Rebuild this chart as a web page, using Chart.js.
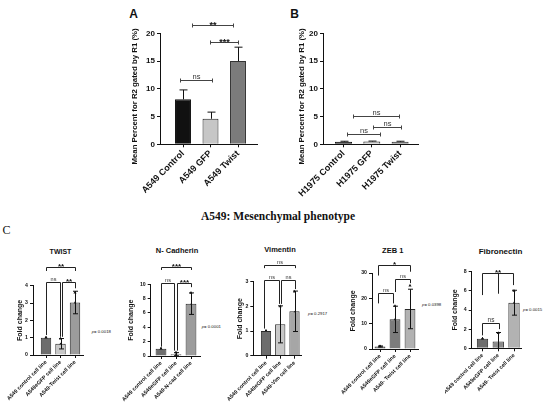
<!DOCTYPE html>
<html>
<head>
<meta charset="utf-8">
<script src="https://cdn.jsdelivr.net/npm/chart.js@4"></script>
<style>
  body { margin: 0; background: #fff; }
  #page { position: relative; width: 550px; height: 420px; overflow: hidden; font-family: "Liberation Sans", Arial, sans-serif; color: #111; }
  canvas { position: absolute; }
  .txt { position: absolute; white-space: nowrap; line-height: 1; transform: translate(-50%, -50%); }
  .p { position: absolute; white-space: nowrap; line-height: 1; transform: translate(0, -50%); font-size: 4.3px; }
  .b { font-weight: bold; }
</style>
</head>
<body>
<div id="page">
  <div class="txt b" style="left:133.5px;top:13.5px;font-size:12px;">A</div>
  <div class="txt b" style="left:294.5px;top:13.5px;font-size:12px;">B</div>
  <div class="txt b" style="left:278px;top:217px;font-size:11.5px;font-family:'Liberation Serif',serif;">A549: Mesenchymal phenotype</div>
  <div class="txt" style="left:6.5px;top:230px;font-size:12px;font-family:'Liberation Serif',serif;">C</div>

  <div class="txt b" style="left:60.5px;top:250.7px;font-size:7px;">TWIST</div>
  <div class="txt b" style="left:177px;top:251px;font-size:7.5px;">N- Cadherin</div>
  <div class="txt b" style="left:280px;top:249.5px;font-size:7.5px;">Vimentin</div>
  <div class="txt b" style="left:392.7px;top:250.7px;font-size:7.5px;">ZEB 1</div>
  <div class="txt b" style="left:500.5px;top:251.7px;font-size:8px;">Fibronectin</div>

  <div class="p" style="left:91.7px;top:331.7px;"><i>p</i>= 0.0018</div>
  <div class="p" style="left:201.7px;top:326.7px;"><i>p</i>= 0.0001</div>
  <div class="p" style="left:308px;top:314.3px;"><i>p</i>= 0.2917</div>
  <div class="p" style="left:422px;top:305px;"><i>p</i>= 0.0398</div>
  <div class="p" style="left:523px;top:310px;"><i>p</i>= 0.0015</div>

  <canvas id="chartA"></canvas>
  <canvas id="chartB"></canvas>
  <canvas id="chartTwist"></canvas>
  <canvas id="chartNcad"></canvas>
  <canvas id="chartVim"></canvas>
  <canvas id="chartZeb"></canvas>
  <canvas id="chartFib"></canvas>
</div>
<script>
// ---------- Data ----------
// Panel A: A549 flow data (mean + SEM, SEM drawn upward only)
const labelsA = ['A549 Control', 'A549 GFP', 'A549 Twist'];
const meanA = [8.1, 4.6, 15.0];
const errA = [1.7, 1.2, 2.5];
// Panel B: H1975 flow data
const labelsB = ['H1975 Control', 'H1975 GFP', 'H1975 Twist'];
const meanB = [0.45, 0.5, 0.45];
const errB = [0.1, 0.08, 0.1];

// Panel C: fold change of EMT markers (mean, SD, single replicates)
const labelsTwist = ['A549 control cell line', 'A549eGFP cell line', 'A549-Twist cell line'];
const meanTwist = [1.0, 0.65, 3.03];
const errTwist = [0, 0.3, 0.65];
const ptsTwist = [[1, 1, 1], [0.95, 0.62, 0.38], [3.6, 3.0, 2.5]];

const labelsNcad = ['A549 control cell line', 'A549eGFP cell line', 'A549-N-cad cell line'];
const meanNcad = [1.0, 0.25, 7.3];
const errNcad = [0, 0.22, 1.5];
const ptsNcad = [[1, 1, 1], [0.5, 0.15, 0.1], [8.8, 7.1, 6.0]];

const labelsVim = ['A549 control cell line', 'A549eGFP cell line', 'A549-Vim cell line'];
const meanVim = [1.0, 1.27, 1.8];
const errVim = [0, 0.75, 0.82];
const ptsVim = [[1, 1, 1], [2.0, 1.1, 0.7], [2.6, 1.75, 1.05]];

const labelsZeb = ['A549 control cell line', 'A549eGFP cell line', 'A549- Twist cell line'];
const meanZeb = [1.0, 11.7, 15.8];
const errZeb = [0.2, 5.2, 7.8];
const ptsZeb = [[1.1, 0.9, 1.0], [17, 11.5, 6.5], [25, 12.5, 10]];

const labelsFib = ['A549 control cell line', 'A549eGFP cell line', 'A549- Twist cell line'];
const meanFib = [1.0, 0.7, 4.76];
const errFib = [0, 0.95, 1.3];
const ptsFib = [[1, 1, 1], [1.6, 0.3, 0.2], [6.0, 4.7, 3.6]];

// Significance brackets: [from x, to x, height, label, left leg end, right leg end, middle leg]
const sigA = [[0.89, 2.05, 11.6, 'ns'], [1.33, 2.82, 21.5, '**'], [1.98, 3.0, 18.4, '***']];
const sigB = [[1.12, 2.29, 1.86, 'ns'], [2.04, 3.03, 3.1, 'ns'], [1.34, 2.96, 5.05, 'ns']];
const sigTwist = [[1.0, 3.03, 5.08, '**', 4.85, 4.85], [1.0, 1.95, 4.22, 'ns', 1.15, 1.05], [2.08, 3.03, 4.22, '**', 1.05, 3.85]];
const sigNcad = [[1.0, 3.0, 12.37, '***', 12.0, 12.0], [1.0, 1.89, 10.2, 'ns', 1.3, 0.75], [2.05, 3.0, 10.2, '***', 0.75, 9.6]];
const sigVim = [[0.88, 3.04, 3.68, 'ns', 3.55, 3.55], [0.88, 1.93, 3.05, 'ns', 1.1, 2.1], [2.05, 3.04, 3.05, 'ns', 2.1, 2.7]];
const sigZeb = [[0.89, 3.0, 33.2, '*', 29, 30.5], [2.0, 3.0, 27.5, 'ns', 22.5, 26], [0.89, 1.89, 22.0, 'ns', 18, 18]];
const sigFib = [[0.95, 2.96, 7.83, '**', 5.56, 6.6, [2.0, 5.7]], [0.95, 2.07, 2.6, 'ns', 1.35, 2.0]];

Chart.defaults.font.family = '"Liberation Sans", Arial, sans-serif';
Chart.defaults.color = '#111';

// Plugin that draws error bars, significance brackets and (optionally) a shifted y title
function marksPlugin(p) {
    return {
        id: 'marks',
        afterDatasetsDraw(chart) {
            const ctx = chart.ctx;
            const X = v => chart.scales.x.getPixelForValue(v);
            const Y = v => chart.scales.y.getPixelForValue(v);
            ctx.save();
            ctx.strokeStyle = '#111';
            ctx.lineWidth = 1;
            // error bars
            p.mean.forEach((m, i) => {
                if (!p.err[i]) return;
                const x = Math.round(X(i + 1)) + 0.5;
                const hi = Y(m + p.err[i]);
                const lowVal = m - p.err[i];
                const lo = p.oneSided ? Y(m) : Y(Math.max(lowVal, 0));
                ctx.beginPath();
                ctx.moveTo(x, lo);
                ctx.lineTo(x, hi);
                ctx.moveTo(x - p.cap, hi);
                ctx.lineTo(x + p.cap, hi);
                if (!p.oneSided && lowVal > 0) {
                    ctx.moveTo(x - p.cap, lo);
                    ctx.lineTo(x + p.cap, lo);
                }
                ctx.stroke();
            });
            // significance brackets
            ctx.strokeStyle = p.sigColor;
            ctx.textAlign = 'center';
            ctx.textBaseline = 'alphabetic';
            p.sig.forEach(b => {
                const [a, c, y, text, d1, d2, mid] = b;
                const x1 = Math.round(X(a)) + 0.5, x2 = Math.round(X(c)) + 0.5;
                const yy = Math.round(Y(y)) + 0.5;
                ctx.beginPath();
                ctx.moveTo(x1, yy);
                ctx.lineTo(x2, yy);
                if (d1 === undefined) {
                    // small end caps
                    ctx.moveTo(x1, yy - 2);
                    ctx.lineTo(x1, yy + 2);
                    ctx.moveTo(x2, yy - 2);
                    ctx.lineTo(x2, yy + 2);
                } else {
                    ctx.moveTo(x1, yy);
                    ctx.lineTo(x1, Y(d1));
                    ctx.moveTo(x2, yy);
                    ctx.lineTo(x2, Y(d2));
                    if (mid) {
                        const xm = Math.round(X(mid[0])) + 0.5;
                        ctx.moveTo(xm, yy);
                        ctx.lineTo(xm, Y(mid[1]));
                    }
                }
                ctx.stroke();
                const isNs = text === 'ns';
                ctx.fillStyle = isNs ? '#333' : '#111';
                ctx.font = isNs ? p.nsFont + 'px "Liberation Sans"' : 'bold ' + p.starFont + 'px "Liberation Sans"';
                ctx.fillText(text, (x1 + x2) / 2, yy - (isNs ? 2 : 0.5) + (isNs ? 0 : p.starFont * 0.3));
            });
            // y title placed by hand (it hangs below the axis in the original)
            if (p.titleY) {
                const g = p.geo;
                ctx.translate(g.titleX - g.cl, p.titleY - g.ct);
                ctx.rotate(-Math.PI / 2);
                ctx.fillStyle = '#111';
                ctx.textBaseline = 'middle';
                ctx.font = 'bold ' + g.titleSize + 'px "Liberation Sans"';
                ctx.fillText(p.yTitle, 0, 0);
            }
            ctx.restore();
        }
    };
}

// Build one bar panel; g holds the page geometry of the plot
function makePanel(p) {
    const g = p.geo;
    const canvas = document.getElementById(p.id);
    canvas.width = g.cw;
    canvas.height = g.ch;
    canvas.style.left = g.cl + 'px';
    canvas.style.top = g.ct + 'px';

    const lh = g.titleSize * 1.2;
    const scaleLeft = g.titleX - lh / 2; // where the y scale box starts
    const yW = g.x0 - scaleLeft;
    const xH = g.ct + g.ch - g.yBot;
    const xMin = 1 - (g.c1 - g.x0) / g.sp;
    const xMax = xMin + (g.x1 - g.x0) / g.sp;

    const datasets = [{
        type: 'bar',
        data: p.mean.map((m, i) => ({ x: i + 1, y: m })),
        backgroundColor: p.colors,
        borderColor: p.borders,
        borderWidth: 1,
        barPercentage: g.barFrac,
        categoryPercentage: 1
    }];
    if (p.pts) {
        datasets.push({
            type: 'line',
            showLine: false,
            data: p.pts.flatMap((arr, i) => arr.map(v => ({ x: i + 1, y: v }))),
            pointStyle: 'triangle',
            pointRadius: 1.8,
            pointBackgroundColor: '#111',
            pointBorderColor: '#111',
            pointBorderWidth: 0
        });
    }

    return new Chart(canvas, {
        type: 'bar',
        data: { datasets },
        options: {
            responsive: false,
            animation: false,
            devicePixelRatio: 1,
            layout: { padding: { left: scaleLeft - g.cl, right: g.cl + g.cw - g.x1, top: g.yTop - g.ct, bottom: 0 } },
            plugins: { legend: { display: false }, tooltip: { enabled: false } },
            scales: {
                x: {
                    type: 'linear',
                    min: xMin,
                    max: xMax,
                    offset: false,
                    afterBuildTicks: s => { s.ticks = p.labels.map((_, i) => ({ value: i + 1 })); },
                    afterFit: s => { s.height = xH; s.paddingLeft = 0; s.paddingRight = 0; },
                    grid: { drawOnChartArea: false, offset: false, tickLength: 3, color: '#111' },
                    border: { color: '#111', width: 1 },
                    ticks: {
                        autoSkip: false, minRotation: 45, maxRotation: 45, padding: 1,
                        font: { size: g.xFont, weight: 'bold' },
                        callback: (v, i) => p.labels[i]
                    }
                },
                y: {
                    min: 0,
                    max: p.yMax,
                    afterFit: s => { s.width = yW; s.paddingTop = 0; s.paddingBottom = 0; },
                    grid: { drawOnChartArea: false, tickLength: 3, color: '#111' },
                    border: { color: '#111', width: 1 },
                    ticks: { stepSize: p.yStep, padding: 2, font: { size: g.tickFont, weight: 'bold' } },
                    title: { display: !p.titleY, text: p.yTitle, padding: 0, font: { size: g.titleSize, weight: 'bold' } }
                }
            }
        },
        plugins: [marksPlugin(p)]
    });
}

const geoAB = { ct: 0, ch: 200, yTop: 33.3, yBot: 144.3, titleSize: 7.8, xFont: 9, tickFont: 8 };
const geoC = { ct: 255, ch: 165, titleSize: 7, xFont: 5.4, tickFont: 5.2, barFrac: 0.72 };
const yTitleAB = 'Mean Percent for R2 gated by R1 (%)';
const barsAB = ['#111111', '#c6c6c6', '#7b7b7b'];
const edgeAB = ['#111111', '#222222', '#333333'];
const edgeC = '#2a2a2a';

makePanel({
    id: 'chartA', labels: labelsA, mean: meanA, err: errA, sig: sigA, oneSided: true, cap: 4,
    yMax: 20, yStep: 5, yTitle: yTitleAB, titleY: 96.5, colors: barsAB, borders: edgeAB, sigColor: '#444', nsFont: 7.5, starFont: 9,
    geo: Object.assign({}, geoAB, { cl: 100, cw: 170, x0: 160, x1: 257, c1: 183, sp: 27.5, titleX: 135, barFrac: 0.58 })
});
makePanel({
    id: 'chartB', labels: labelsB, mean: meanB, err: errB, sig: sigB, oneSided: true, cap: 4,
    yMax: 20, yStep: 5, yTitle: yTitleAB, titleY: 96.5, colors: barsAB, borders: edgeAB, sigColor: '#444', nsFont: 7.5, starFont: 9,
    geo: Object.assign({}, geoAB, { cl: 270, cw: 180, x0: 323, x1: 418, c1: 343.5, sp: 28.3, titleX: 302, barFrac: 0.6 })
});
makePanel({
    id: 'chartTwist', labels: labelsTwist, mean: meanTwist, err: errTwist, pts: ptsTwist, sig: sigTwist, cap: 2.5,
    yMax: 4, yStep: 1, yTitle: 'Fold change', colors: ['#6d6d6d', '#c8c8c8', '#9c9c9c'], borders: edgeC,
    sigColor: '#222', nsFont: 5.5, starFont: 8,
    geo: Object.assign({}, geoC, { cl: 0, cw: 115, x0: 33, x1: 83, yTop: 285.7, yBot: 355, c1: 46, sp: 14.5, titleX: 20 })
});
makePanel({
    id: 'chartNcad', labels: labelsNcad, mean: meanNcad, err: errNcad, pts: ptsNcad, sig: sigNcad, cap: 2.5,
    yMax: 10, yStep: 2, yTitle: 'Fold change', colors: ['#6d6d6d', '#c8c8c8', '#9c9c9c'], borders: edgeC,
    sigColor: '#222', nsFont: 5.5, starFont: 8,
    geo: Object.assign({}, geoC, { cl: 115, cw: 110, x0: 150.7, x1: 200, yTop: 284.3, yBot: 356, c1: 161, sp: 15, titleX: 131 })
});
makePanel({
    id: 'chartVim', labels: labelsVim, mean: meanVim, err: errVim, pts: ptsVim, sig: sigVim, cap: 2.5,
    yMax: 3, yStep: 1, yTitle: 'Fold change', colors: ['#6d6d6d', '#c8c8c8', '#a6a6a6'], borders: edgeC,
    sigColor: '#222', nsFont: 5.5, starFont: 8,
    geo: Object.assign({}, geoC, { cl: 225, cw: 110, x0: 253.3, x1: 301, yTop: 281.7, yBot: 355.7, c1: 266, sp: 14.25, titleX: 240 })
});
makePanel({
    id: 'chartZeb', labels: labelsZeb, mean: meanZeb, err: errZeb, pts: ptsZeb, sig: sigZeb, cap: 2.5,
    yMax: 30, yStep: 10, yTitle: 'Fold change', colors: ['#6d6d6d', '#7c7c7c', '#b2b2b2'], borders: edgeC,
    sigColor: '#222', nsFont: 5.5, starFont: 8,
    geo: Object.assign({}, geoC, { cl: 335, cw: 110, x0: 372, x1: 418, yTop: 273, yBot: 349, c1: 380, sp: 15, titleX: 353 })
});
makePanel({
    id: 'chartFib', labels: labelsFib, mean: meanFib, err: errFib, pts: ptsFib, sig: sigFib, cap: 2.5,
    yMax: 8, yStep: 2, yTitle: 'Fold change', colors: ['#6d6d6d', '#8a8a8a', '#b2b2b2'], borders: edgeC,
    sigColor: '#222', nsFont: 6.5, starFont: 8,
    geo: Object.assign({}, geoC, { cl: 445, cw: 105, x0: 471.7, x1: 521.7, yTop: 271.7, yBot: 348.3, c1: 482.5, sp: 15.75, titleX: 455 })
});
</script>
</body>
</html>
